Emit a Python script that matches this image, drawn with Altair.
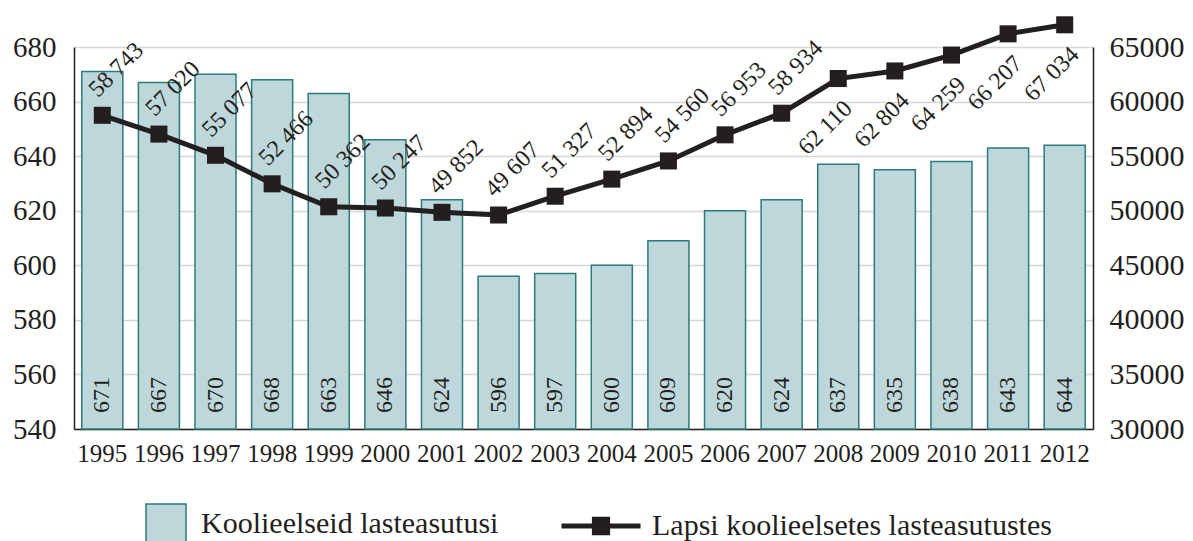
import altair as alt
import pandas as pd

years = ["1995", "1996", "1997", "1998", "1999", "2000", "2001", "2002", "2003",
         "2004", "2005", "2006", "2007", "2008", "2009", "2010", "2011", "2012"]
institutions = [671, 667, 670, 668, 663, 646, 624, 596, 597, 600, 609, 620, 624,
                637, 635, 638, 643, 644]
children = [58743, 57020, 55077, 52466, 50362, 50247, 49852, 49607, 51327, 52894,
            54560, 56953, 58934, 62110, 62804, 64259, 66207, 67034]
bar_series = "Koolieelseid lasteasutusi"
line_series = "Lapsi koolieelsetes lasteasutustes"
left_ticks = [540, 560, 580, 600, 620, 640, 660, 680]
right_ticks = [30000, 35000, 40000, 45000, 50000, 55000, 60000, 65000]

FONT = "Liberation Serif"
INK = "#231f20"
BAR_FILL = "#bdd7da"
BAR_EDGE = "#2b7b7b"
GRID = "#d6d6d6"

df = pd.DataFrame({"year": years, "inst": institutions, "kids": children})
df["bar_series"] = bar_series
df["line_series"] = line_series

base = alt.Chart(df)

x_axis = alt.Axis(title=None, labelAngle=0, labelFontSize=25, labelFont=FONT,
                  labelColor=INK, ticks=False, domainColor=INK, domainWidth=1.5,
                  labelPadding=12)
x_scale = alt.Scale(paddingInner=0.275, paddingOuter=0.1375)
x_enc = alt.X("year:N", sort=None, scale=x_scale, axis=x_axis)

y_left_scale = alt.Scale(domain=[540, 680], nice=False, zero=False)
y_right_scale = alt.Scale(domain=[30000, 65000], nice=False, zero=False)
y_left_axis = alt.Axis(title=None, values=left_ticks, grid=True, gridColor=GRID,
                       gridWidth=1.5, ticks=False, domainColor=INK, domainWidth=1.5,
                       labelFontSize=29, labelFont=FONT, labelColor=INK, labelPadding=18)
y_right_axis = alt.Axis(title=None, orient="right", values=right_ticks, format="d",
                        grid=False, ticks=False, domainColor=INK, domainWidth=1.5,
                        labelFontSize=30, labelFont=FONT, labelColor=INK, labelPadding=16)
y_right = alt.Y("kids:Q", scale=y_right_scale, axis=y_right_axis)

bars = base.mark_bar(stroke=BAR_EDGE, strokeWidth=1.5).encode(
    x=x_enc,
    y=alt.Y("inst:Q", scale=y_left_scale, axis=y_left_axis),
    y2=alt.datum(540),
    fill=alt.Fill("bar_series:N", scale=alt.Scale(range=[BAR_FILL]),
                  legend=alt.Legend(title=None, orient="none", legendX=71, legendY=456,
                                    symbolType="square", symbolSize=1600,
                                    symbolStrokeColor=BAR_EDGE, symbolStrokeWidth=1.5,
                                    labelFont=FONT, labelFontSize=30, labelColor=INK,
                                    labelOffset=14, labelLimit=0, padding=0)),
)

bar_text = base.mark_text(angle=270, align="left", baseline="middle", dx=16,
                          fontSize=24, font=FONT, color=INK).encode(
    x=x_enc,
    y=alt.Y(datum=540, scale=y_left_scale, axis=y_left_axis),
    text=alt.Text("inst:Q"),
)

left = alt.layer(bars, bar_text)

legend_path = ("M-1,0H1M-0.23,-0.17H0.23M-0.23,-0.085H0.23M-0.23,0H0.23"
               "M-0.23,0.085H0.23M-0.23,0.17H0.23")

line = base.mark_line(strokeWidth=5).encode(
    x=x_enc,
    y=y_right,
    stroke=alt.Stroke("line_series:N", scale=alt.Scale(range=[INK]),
                      legend=alt.Legend(title=None, orient="none", legendX=485, legendY=437,
                                        symbolType=legend_path, symbolSize=6241,
                                        symbolStrokeWidth=5, symbolFillColor=INK,
                                        labelFont=FONT, labelFontSize=30, labelColor=INK,
                                        labelOffset=9, labelLimit=0, padding=0)),
)

points = base.mark_square(size=290, color=INK, opacity=1, filled=True).encode(
    x=x_enc,
    y=y_right,
)

label_calc = "replace(format(datum.kids, ','), ',', ' ')"

labels_above = base.transform_filter("toNumber(datum.year) <= 2007").transform_calculate(
    lbl=label_calc
).mark_text(angle=315, align="center", baseline="middle", dx=42, dy=-22,
            fontSize=24, font=FONT, color=INK).encode(
    x=x_enc,
    y=y_right,
    text="lbl:N",
)

labels_below = base.transform_filter("toNumber(datum.year) >= 2008").transform_calculate(
    lbl=label_calc
).mark_text(angle=315, align="center", baseline="middle", dx=-44, dy=26,
            fontSize=24, font=FONT, color=INK).encode(
    x=x_enc,
    y=y_right,
    text="lbl:N",
)

right = alt.layer(line, points, labels_above, labels_below)

chart = alt.layer(left, right).resolve_scale(
    y="independent", fill="independent", stroke="independent"
).properties(
    width=1019, height=382,
    autosize=alt.AutoSizeParams(type="none"),
    padding={"left": 66, "top": 39, "right": 92, "bottom": 112},
    background="white",
).configure_view(
    stroke=None
).configure_axis(
    labelFont=FONT, labelColor=INK
).configure_legend(
    labelFont=FONT, labelColor=INK
).configure_text(
    font=FONT
)

chart.save("out.html", embed_options={"renderer": "svg", "actions": False})
